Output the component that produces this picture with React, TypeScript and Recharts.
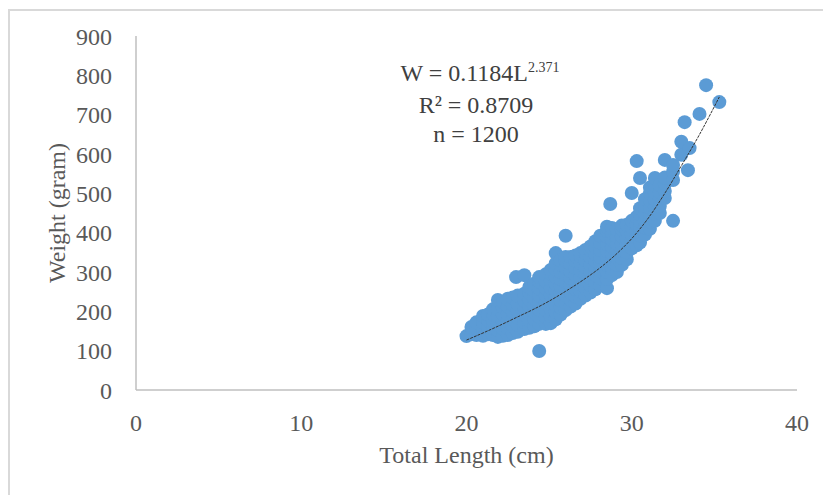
import React from "react";
import { ScatterChart, Scatter, XAxis, YAxis, Label } from "recharts";

const xTicks = [0, 10, 20, 30, 40];
const yTicks = [0, 100, 200, 300, 400, 500, 600, 700, 800, 900];

// total length (cm) columns
const lengthBins = [
  20.0, 20.3, 20.6, 21.0, 21.3, 21.6, 21.9, 22.2, 22.5, 22.8, 23.0, 23.1, 23.5, 23.8, 24.1, 24.4, 24.8, 25.1,
  25.4, 25.7, 26.0, 26.3, 26.6, 26.9, 27.2, 27.5, 27.8, 28.1, 28.5, 28.7, 28.8, 29.1, 29.4, 29.7, 30.0, 30.3,
  30.5, 30.8, 31.1, 31.4, 31.7, 32.0, 32.5, 33.0, 33.2, 33.4, 33.5, 34.1, 34.5, 35.3,
];

// weights (gram) seen in each column
const weightBins = [
  [137],
  [142, 160],
  [140, 156, 172],
  [138, 155, 172, 188],
  [142, 160, 178, 192],
  [140, 158, 176, 194, 205],
  [135, 152, 170, 188, 206, 229],
  [138, 156, 174, 192, 210, 224],
  [140, 158, 176, 194, 212, 232],
  [145, 163, 181, 199, 217, 235],
  [287],
  [148, 166, 184, 202, 220, 240],
  [155, 173, 191, 209, 227, 245, 292],
  [158, 176, 194, 212, 230, 248, 262],
  [162, 180, 198, 216, 234, 252, 270],
  [99, 168, 186, 204, 222, 240, 258, 276, 287],
  [168, 186, 204, 222, 240, 258, 276, 294],
  [170, 188, 206, 224, 242, 260, 278, 296, 305],
  [180, 198, 216, 234, 252, 270, 288, 306, 322, 348],
  [192, 210, 228, 246, 264, 282, 300, 318, 330],
  [203, 221, 239, 257, 275, 293, 311, 329, 338, 392],
  [212, 230, 248, 266, 284, 302, 320, 338],
  [220, 238, 256, 274, 292, 310, 328, 342],
  [232, 250, 268, 286, 304, 322, 340, 348],
  [240, 258, 276, 294, 312, 330, 348, 356],
  [248, 266, 284, 302, 320, 338, 356, 365],
  [256, 274, 292, 310, 328, 346, 364, 378],
  [266, 284, 302, 320, 338, 356, 374, 392],
  [259, 282, 300, 318, 336, 354, 372, 390, 405, 415],
  [473],
  [292, 310, 328, 346, 364, 382, 400, 412],
  [300, 318, 336, 354, 372, 390, 408],
  [318, 336, 354, 372, 390, 408, 418],
  [332, 350, 368, 386, 404, 420],
  [360, 378, 396, 414, 430, 501],
  [368, 386, 404, 422, 440, 582],
  [375, 393, 411, 429, 447, 462, 539],
  [395, 413, 431, 449, 467, 485],
  [410, 428, 446, 464, 482, 500, 515],
  [430, 448, 466, 484, 502, 520, 539],
  [450, 468, 486, 504, 522],
  [488, 506, 524, 540, 585],
  [430, 534, 555, 572],
  [598, 631],
  [681],
  [559],
  [615],
  [702],
  [775],
  [732],
];

// power trendline as drawn in the picture
const trendLength = [20, 21, 22, 23, 24, 25, 26, 27, 28, 29, 30, 31, 32, 33, 34, 35.3];
const trendWeight = [127, 145, 164, 184, 204, 226, 251, 278, 308, 343, 385, 437, 500, 570, 642, 745];

const fish = lengthBins.flatMap((len, i) => weightBins[i].map((w) => ({ length: len, weight: w })));
const trend = trendLength.map((len, i) => ({ length: len, weight: trendWeight[i] }));

const font = "'Liberation Serif', 'Times New Roman', serif";
const tickStyle = { fill: "#595959", fontSize: 24, fontFamily: font };

const Dot = (props: any) => <circle cx={props.cx} cy={props.cy} r={7} fill="#5B9BD5" />;

const XTitle = (props: any) => {
  const { x, y, width, height } = props.viewBox;
  return (
    <text x={x + width / 2} y={y + height - 2} textAnchor="middle" fill="#595959" fontSize={24} fontFamily={font}>
      Total Length (cm)
    </text>
  );
};

const YTitle = (props: any) => {
  const { y, height } = props.viewBox;
  const cy = y + height / 2;
  return (
    <text
      x={57}
      y={cy}
      transform={`rotate(-90 57 ${cy})`}
      textAnchor="middle"
      dominantBaseline="central"
      fill="#595959"
      fontSize={24}
      fontFamily={font}
    >
      Weight (gram)
    </text>
  );
};

export default function App() {
  return (
    <div style={{ position: "absolute", left: 0, top: 0, width: 823, height: 495, background: "#fff", overflow: "hidden" }}>
      <div
        style={{
          position: "absolute",
          left: 8,
          top: 9,
          width: 900,
          height: 600,
          borderLeft: "2px solid #d9d9d9",
          borderTop: "2px solid #d9d9d9",
        }}
      />
      <ScatterChart width={823} height={495} margin={{ top: 36, right: 26, bottom: 30, left: 0 }}>
        <XAxis
          type="number"
          dataKey="length"
          domain={[0, 40]}
          ticks={xTicks}
          height={75}
          axisLine={{ stroke: "#bfbfbf", strokeWidth: 1.5 }}
          tickLine={false}
          tickSize={0}
          tickMargin={24}
          tick={tickStyle}
        >
          <Label content={XTitle} />
        </XAxis>
        <YAxis
          type="number"
          dataKey="weight"
          domain={[0, 900]}
          ticks={yTicks}
          width={136}
          axisLine={{ stroke: "#bfbfbf", strokeWidth: 1.5 }}
          tickLine={false}
          tickSize={0}
          tickMargin={24}
          tick={tickStyle}
        >
          <Label content={YTitle} />
        </YAxis>
        <Scatter data={fish} shape={Dot} isAnimationActive={false} />
        <Scatter
          data={trend}
          line={{ stroke: "#333333", strokeWidth: 1, strokeDasharray: "3 1" }}
          lineJointType="monotoneX"
          shape={() => <g />}
          isAnimationActive={false}
        />
      </ScatterChart>
      <div
        style={{
          position: "absolute",
          left: 376,
          top: 59,
          width: 200,
          textAlign: "center",
          fontFamily: font,
          fontSize: 24,
          lineHeight: "29px",
          color: "#404040",
        }}
      >
        <div style={{ paddingLeft: 8 }}>
          W = 0.1184L<span style={{ fontSize: 14, position: "relative", top: -9 }}>2.371</span>
        </div>
        <div>R² = 0.8709</div>
        <div>n = 1200</div>
      </div>
    </div>
  );
}
